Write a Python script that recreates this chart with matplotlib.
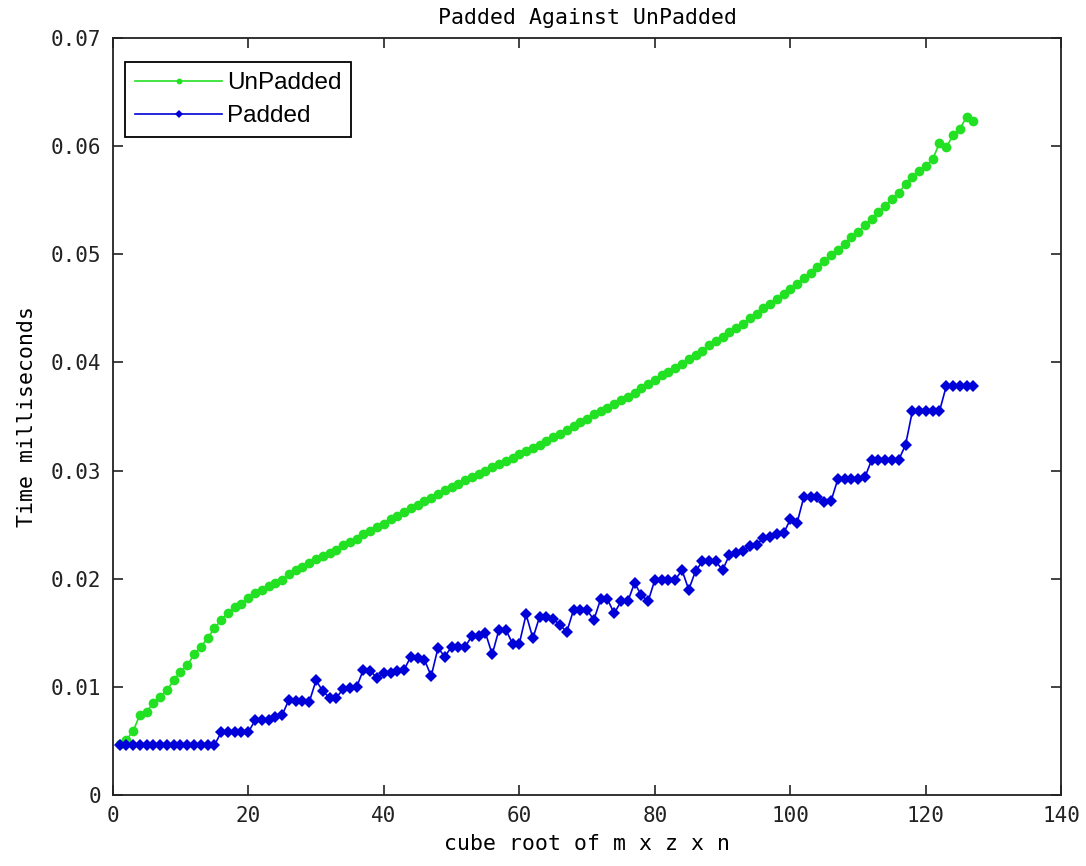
from matplotlib import pyplot as plt
import numpy as np

plt.rcParams['font.family'] = ['DejaVu Sans Mono']

# x轴: 立方根 1..127
cube_root = np.arange(1, 128)

# UnPadded 时间 (毫秒)
unpadded = [
    0.0047, 0.0051, 0.0059, 0.0074, 0.0077,
    0.0085, 0.0091, 0.0097, 0.0106, 0.0114,
    0.0120, 0.0130, 0.0137, 0.0145, 0.0154,
    0.0162, 0.0168, 0.0174, 0.0177, 0.0182,
    0.0187, 0.0190, 0.0193, 0.0196, 0.0199,
    0.0204, 0.0208, 0.0211, 0.0215, 0.0218,
    0.0221, 0.0224, 0.0227, 0.0231, 0.0234,
    0.0237, 0.0241, 0.0244, 0.0248, 0.0251,
    0.0255, 0.0258, 0.0262, 0.0265, 0.0268,
    0.0272, 0.0275, 0.0278, 0.0282, 0.0285,
    0.0288, 0.0291, 0.0294, 0.0297, 0.0300,
    0.0303, 0.0306, 0.0309, 0.0312, 0.0315,
    0.0318, 0.0321, 0.0324, 0.0327, 0.0331,
    0.0334, 0.0338, 0.0341, 0.0345, 0.0348,
    0.0352, 0.0355, 0.0358, 0.0362, 0.0365,
    0.0368, 0.0372, 0.0376, 0.0380, 0.0384,
    0.0388, 0.0391, 0.0395, 0.0399, 0.0403,
    0.0407, 0.0411, 0.0416, 0.0420, 0.0424,
    0.0428, 0.0432, 0.0436, 0.0441, 0.0445,
    0.0450, 0.0454, 0.0459, 0.0463, 0.0468,
    0.0473, 0.0478, 0.0483, 0.0488, 0.0494,
    0.0499, 0.0504, 0.0510, 0.0516, 0.0521,
    0.0527, 0.0533, 0.0539, 0.0545, 0.0551,
    0.0557, 0.0565, 0.0572, 0.0577, 0.0582,
    0.0588, 0.0603, 0.0599, 0.0610, 0.0616,
    0.0627, 0.0623,
]

# Padded 时间 (毫秒)
padded = [
    0.0046, 0.0046, 0.0046, 0.0046, 0.0046,
    0.0046, 0.0046, 0.0046, 0.0046, 0.0046,
    0.0046, 0.0046, 0.0046, 0.0046, 0.0046,
    0.0058, 0.0058, 0.0058, 0.0058, 0.0058,
    0.0069, 0.0069, 0.0069, 0.0072, 0.0074,
    0.0088, 0.0087, 0.0087, 0.0086, 0.0106,
    0.0096, 0.0090, 0.0090, 0.0098, 0.0099,
    0.0100, 0.0116, 0.0115, 0.0108, 0.0113,
    0.0113, 0.0115, 0.0116, 0.0128, 0.0127,
    0.0125, 0.0110, 0.0136, 0.0128, 0.0137,
    0.0137, 0.0137, 0.0147, 0.0147, 0.0150,
    0.0130, 0.0153, 0.0153, 0.0140, 0.0140,
    0.0167, 0.0145, 0.0165, 0.0165, 0.0163,
    0.0157, 0.0151, 0.0171, 0.0171, 0.0171,
    0.0162, 0.0181, 0.0181, 0.0168, 0.0179,
    0.0179, 0.0196, 0.0185, 0.0179, 0.0199,
    0.0199, 0.0199, 0.0199, 0.0208, 0.0190,
    0.0207, 0.0216, 0.0216, 0.0216, 0.0208,
    0.0222, 0.0224, 0.0226, 0.0230, 0.0231,
    0.0238, 0.0239, 0.0241, 0.0242, 0.0255,
    0.0252, 0.0276, 0.0276, 0.0276, 0.0271,
    0.0272, 0.0292, 0.0292, 0.0292, 0.0292,
    0.0294, 0.0310, 0.0310, 0.0310, 0.0310,
    0.0310, 0.0324, 0.0355, 0.0355, 0.0355,
    0.0355, 0.0355, 0.0378, 0.0378, 0.0378,
    0.0378, 0.0378,
]

x_ticks = [0, 20, 40, 60, 80, 100, 120, 140]
y_ticks = [0, 0.01, 0.02, 0.03, 0.04, 0.05, 0.06, 0.07]
y_tick_labels = ['0', '0.01', '0.02', '0.03', '0.04', '0.05', '0.06', '0.07']

fig = plt.figure(figsize=(10.86, 8.66), dpi=100)
ax = fig.add_axes([0.1038, 0.082, 0.8736, 0.874])

green = '#22e022'
blue = '#0000d8'
ax.plot(cube_root, unpadded, color=green, lw=1.2, marker='o', ms=7, mew=0, label='UnPadded')
ax.plot(cube_root, padded, color=blue, lw=1.2, marker='D', ms=6.5, mew=0, label='Padded')

ax.set_xlim(0, 140)
ax.set_ylim(0, 0.07)
ax.set_xticks(x_ticks)
ax.set_yticks(y_ticks)
ax.set_yticklabels(y_tick_labels)
ax.tick_params(direction='in', length=7, width=1.2, top=True, right=True,
               labelsize=15, pad=8, colors='#222222')
for s in ax.spines.values():
    s.set_linewidth(1.3)
    s.set_color('#222222')

ax.set_title('Padded Against UnPadded', fontsize=15.5, pad=10)
ax.set_xlabel('cube root of m x z x n', fontsize=15.5, labelpad=6)
ax.set_ylabel('Time milliseconds', fontsize=15.5, labelpad=10)

# 图例
leg = ax.legend(loc='upper left', bbox_to_anchor=(0.013, 0.968), borderaxespad=0,
                fancybox=False, edgecolor='black', framealpha=1,
                prop={'family': 'Liberation Sans', 'size': 17.5},
                handlelength=3.6, handletextpad=0.2, markerscale=0.6,
                labelspacing=0.45, borderpad=0.4)
leg.get_frame().set_linewidth(1.3)

plt.savefig('out.png', dpi=100)
